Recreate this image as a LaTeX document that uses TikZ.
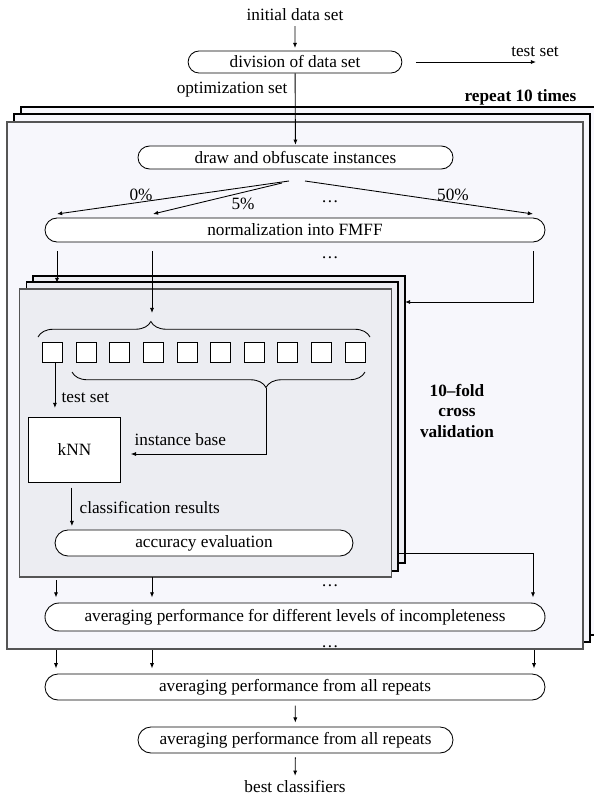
\documentclass[tikz,border=0pt]{standalone}
\usepackage{fontspec}
\setmainfont{Liberation Serif}
\usepackage{tikz}
\usetikzlibrary{arrows.meta,shapes.misc,decorations.pathreplacing,positioning}
\definecolor{outerfill}{RGB}{247,247,252}
\definecolor{innerfill}{RGB}{236,237,242}
\definecolor{framegray}{RGB}{85,85,85}

\begin{document}
\begin{tikzpicture}[x=0.58pt,y=0.58pt,yscale=-1,
  proc/.style={draw,rounded rectangle,fill=white,inner sep=0pt,line width=0.5pt},
  arr/.style={-{Latex[length=3pt,width=2.4pt]},line width=0.5pt},
  lbl/.style={inner sep=0.75pt},
  sq/.style={draw,fill=white,minimum size=11.6pt,inner sep=0pt,line width=0.5pt},
  frameback/.style={draw=black,line width=0.6pt},
  framefront/.style={draw=framegray,line width=0.9pt},
  brc/.style={decorate,decoration={brace,amplitude=9pt,aspect=#1},line width=0.5pt}]
  \useasboundingbox (0,0) rectangle (594,800);

  %Frames: repeat 10 times
  \draw [frameback,fill=outerfill] (21,107) rectangle (597,635);
  \draw [frameback,fill=outerfill] (14,114) rectangle (590,642);
  \draw [framefront,fill=outerfill] (7,122) rectangle (583,649);
  %Frames: 10-fold cross validation
  \draw [frameback,fill=innerfill] (33,276) rectangle (405,563);
  \draw [frameback,fill=innerfill] (26.5,282) rectangle (398,571);
  \draw [framefront,fill=innerfill] (19.7,289) rectangle (391.5,577);

  % Text Node
  \node [lbl] (init) at (295,15) {initial data set};
  \node [proc,minimum width=124pt,minimum height=12.8pt] (div) at (295,62) {division of data set};
  \node [lbl] (testout) at (535,52) {test set};
  \coordinate (tsend) at (536,62);
  \node [lbl,anchor=east] (optset) at (289,90) {optimization set};
  \node [lbl,anchor=east,font=\bfseries] (rep) at (578,97) {repeat 10 times};
  \node [proc,minimum width=182.7pt,minimum height=13.3pt] (obf) at (295.5,157.5) {draw and obfuscate instances};

  %Levels of incompleteness
  \coordinate (f0) at (289,181);
  \coordinate (f5) at (282,183);
  \coordinate (f50) at (305,181);
  \coordinate (c0) at (57,214);
  \coordinate (c5) at (153,214);
  \coordinate (c50) at (533,214);
  \node [lbl] (p0) at (141,195) {0\%};
  \node [lbl] (p5) at (243,204) {5\%};
  \node [lbl] (pdots) at (330,202) {\dots};
  \node [lbl] (p50) at (453,195) {50\%};
  \node [proc,minimum width=290pt,minimum height=13.9pt] (norm) at (295,230) {normalization into FMFF};
  \node [lbl] (ndots) at (330,258) {\dots};

  %Folds
  \foreach \i in {0,...,9}
    \node [sq] (s\i) at ({52.7+33.6*\i},352) {};
  \draw [brc=0.34] (38,337) -- (370,337);
  \coordinate (brtop) at (152,313);
  \draw [brc=0.338] (365,372) -- (72,372);
  \coordinate (brlow) at (266,388);
  \node [lbl,anchor=west] (tst) at (60,398) {test set};
  \node [draw,fill=white,line width=0.5pt,minimum width=53.4pt,minimum height=37.7pt] (knn) at (74.5,449.5) {kNN};
  \coordinate (kin) at (120.5,454);
  \node [lbl,anchor=west] (ib) at (133,440) {instance base};
  \node [lbl,anchor=west] (cr) at (78,508) {classification results};
  \node [proc,minimum width=172.8pt,minimum height=15.1pt] (acc) at (204,543) {accuracy evaluation};
  \node [lbl,align=center,font=\bfseries] (fold) at (457,411) {10--fold\\cross\\validation};
  \coordinate (cvin) at (405,302);
  \coordinate (cvout) at (399,553);

  %Averaging
  \node [lbl] (adots) at (330,586) {\dots};
  \node [proc,minimum width=290pt,minimum height=16.2pt] (avg1) at (295,617) {averaging performance for different levels of incompleteness};
  \node [lbl] (bdots) at (330,647) {\dots};
  \node [proc,minimum width=290pt,minimum height=15.1pt] (avg2) at (295,687) {averaging performance from all repeats};
  \node [proc,minimum width=182.7pt,minimum height=15.1pt] (avg3) at (295.5,740) {averaging performance from all repeats};
  \node [lbl] (best) at (295,787) {best classifiers};

  %Connectors
  \draw [arr,shorten <=2pt,shorten >=1.5pt] (init) -- (div);
  \draw [arr,shorten <=7.8pt] (div.east) -- (tsend);
  \draw [arr,shorten >=0.5pt] (div) -- (obf);
  \draw [arr] (f0) -- (c0);
  \draw [arr] (f5) -- (c5);
  \draw [arr] (f50) -- (c50);
  \draw [arr,shorten <=5pt] (norm.south -| 57,0) -- (57,283);
  \draw [arr,shorten <=5pt] (norm.south -| brtop) -- (brtop);
  \draw [arr,shorten <=5pt] (norm.south -| c50) |- (cvin);
  \draw [arr,shorten >=5pt] ([xshift=1.3pt]s0.south) -- ([xshift=1.3pt]s0.south |- knn.north);
  \draw [arr,shorten >=6pt] (brlow) |- (kin);
  \draw [arr,shorten <=3pt,shorten >=2pt] ([xshift=-1.5pt]knn.south) -- ([xshift=-1.5pt]knn.south |- acc.north);
  \draw [arr,shorten >=3pt] (cvout) -| (avg1.north -| c50);
  \draw [arr,shorten >=3pt] (56,580) -- (avg1.north -| 56,0);
  \draw [arr,shorten >=3pt] (152,577) -- (avg1.north -| 152,0);
  \draw [arr,shorten >=3pt] (56,650) -- (avg2.north -| 56,0);
  \draw [arr,shorten >=3pt] (152,650) -- (avg2.north -| 152,0);
  \draw [arr,shorten >=3pt] (534,650) -- (avg2.north -| 534,0);
  \draw [arr,shorten <=3pt,shorten >=2.3pt] (avg2) -- (avg3);
  \draw [arr,shorten <=2.3pt,shorten >=2pt] (avg3) -- (best);
\end{tikzpicture}
\end{document}
